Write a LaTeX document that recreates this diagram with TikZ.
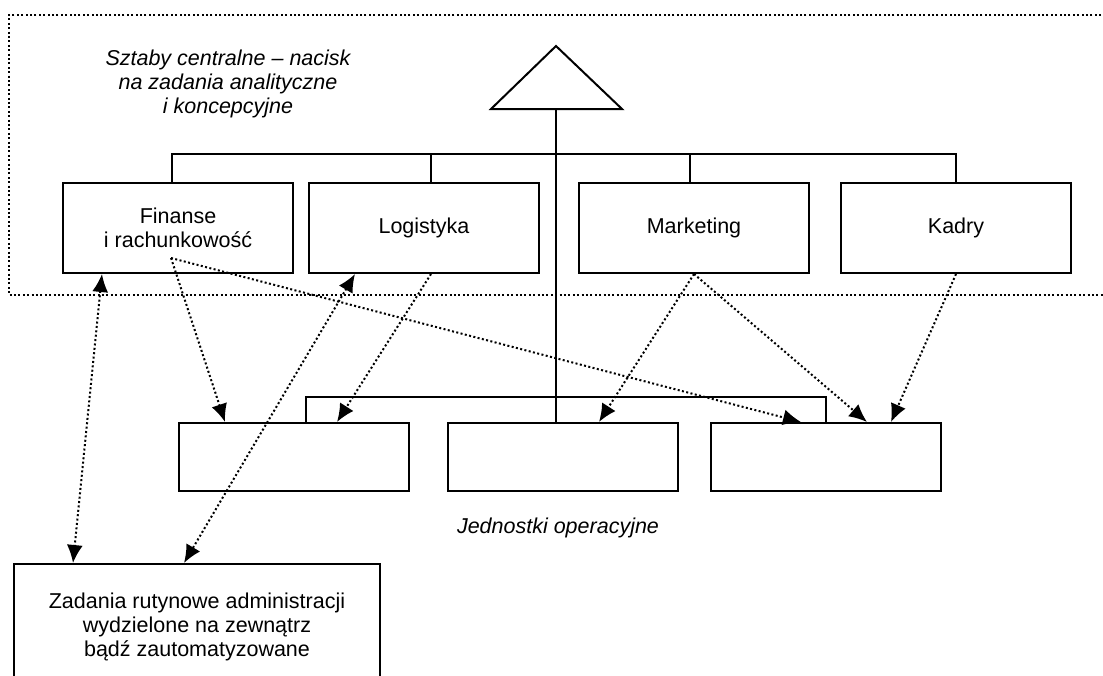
\documentclass[tikz,border=0pt]{standalone}
\usepackage{fontspec}
\setmainfont{Liberation Sans}
\usetikzlibrary{arrows.meta,positioning,calc}

\begin{document}
\begin{tikzpicture}[x=1pt, y=-1pt, node distance=14pt,
    every node/.style={font=\fontsize{21.5}{24}\selectfont},
    unit/.style={draw, line width=2pt, minimum width=230pt, minimum height=90pt, align=center, inner sep=0pt},
    opbox/.style={unit, minimum height=68pt},
    label/.style={font=\itshape\fontsize{21.5}{24}\selectfont, align=center},
    wire/.style={line width=2pt},
    frame/.style={line width=2pt, dash pattern=on 2pt off 2.4pt},
    link/.style={line width=2pt, dash pattern=on 2pt off 2.4pt, -{Latex[length=18pt,width=16pt]}},
    twoway/.style={link, {Latex[length=18pt,width=16pt]}-{Latex[length=18pt,width=16pt]}}]
    \useasboundingbox (0,0) rectangle (1103,675);
    \clip (0,0) rectangle (1103,675);

    % central staff area
    \draw[frame] (1110,15) -| (9,295) -- (1110,295);
    \node[label] (staff) at (228,84) {Sztaby centralne – nacisk\\na zadania analityczne\\i koncepcyjne};

    \node[unit] (fin) at (178,228) {Finanse\\i rachunkowość};
    \node[unit, right=14pt of fin] (log) {Logistyka};
    \node[unit, right=38pt of log] (mkt) {Marketing};
    \node[unit, right=30pt of mkt] (kad) {Kadry};

    % operating units
    \node[opbox] (opl) at (294,457) {};
    \node[opbox, right=37pt of opl] (opm) {};
    \node[opbox, right=31pt of opm] (opr) {};
    \node[label] (ops) at (558,528) {Jednostki operacyjne};

    \node[unit, minimum width=366pt, minimum height=126pt] (zad) at (197,627) {Zadania rutynowe administracji\\wydzielone na zewnątrz\\bądź zautomatyzowane};

    % head and structure lines
    \coordinate (apex) at (556,46);
    \coordinate (base) at (556,109);
    \draw[wire] (base) -- ++(-65,0) -- (apex) -- ++(66,63) -- cycle;
    \draw[wire] (base) -- (base |- opm.north);

    \coordinate (busT) at (0,154);
    \coordinate (busB) at (0,397);
    \draw[wire] (fin.north) ++(-6,0) |- (busT -| kad.north) -- (kad.north);
    \draw[wire] (log.north) ++(7,0) -- ++(0,-29);
    \draw[wire] (mkt.north) ++(-4,0) -- ++(0,-29);
    \draw[wire] (opl.north) ++(12,0) |- (busB -| opr.north) -- (opr.north);

    % dotted links
    \draw[twoway] ([xshift=-76pt]fin.south) -- ([xshift=-124pt]zad.north);
    \draw[twoway] ([xshift=-69pt]log.south) -- ([xshift=-13pt]zad.north);
    \coordinate (finsrc) at ([xshift=-7pt,yshift=-30pt]fin.center);
    \draw[link] (finsrc) -- ([xshift=-69pt]opl.north);
    \draw[link] (finsrc) -- ([xshift=-25pt]opr.north);
    \draw[link] ([xshift=7pt]log.south) -- ([xshift=43pt]opl.north);
    \draw[link] (mkt.south) -- ([xshift=36pt]opm.north);
    \draw[link] (mkt.south) -- ([xshift=41pt]opr.north);
    \draw[link] (kad.south) -- ([xshift=65pt]opr.north);
\end{tikzpicture}
\end{document}
